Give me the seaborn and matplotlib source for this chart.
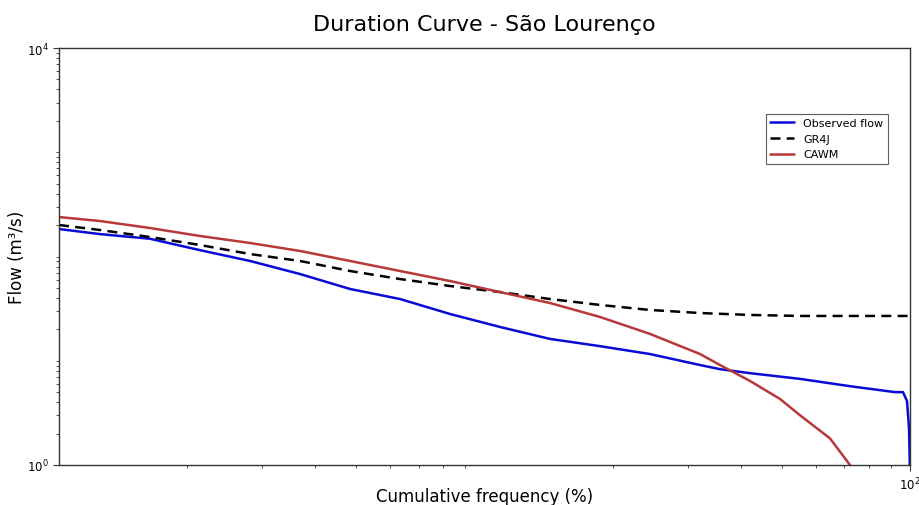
import numpy as np
import pandas as pd
import matplotlib
matplotlib.use("Agg")
import matplotlib.pyplot as plt
import seaborn as sns
from matplotlib.ticker import FixedLocator, NullFormatter

# ---- data ----
obs_freq = [1.0, 1.248, 1.636, 2.145, 2.811, 3.685, 4.830, 6.330, 8.297, 10.87, 14.25,
            18.68, 24.48, 32.10, 35.77, 42.07, 55.14, 72.27, 92.2, 96.3, 98.4, 99.5, 100.0]
obs_flow = [183.5, 164, 148, 115, 90.6, 67.9, 48.8, 39.1, 28.1, 21.1, 16.2,
            13.8, 11.6, 9.1, 8.3, 7.6, 6.7, 5.7, 5.0, 5.0, 4.1, 2.2, 0.8]

gr4j_freq = [1.0, 1.248, 1.636, 2.145, 2.811, 3.685, 4.830, 6.330, 8.297, 10.87, 14.25,
             18.68, 24.48, 32.10, 42.07, 55.14, 72.27, 100.0]
gr4j_flow = [200.5, 179.6, 153.8, 128.9, 105.6, 90.6, 72.6, 60.8, 52.1, 45.6, 39.1,
             34.3, 30.7, 28.7, 27.5, 26.9, 26.9, 26.9]

cawm_freq = [1.0, 1.248, 1.636, 2.145, 2.811, 3.685, 4.830, 6.330, 8.297, 10.87, 14.25,
             18.68, 24.48, 32.10, 35.77, 42.07, 49.49, 55.14, 64.86, 72.27]
cawm_flow = [239, 219, 187.6, 157.3, 134.8, 113, 90.6, 72.6, 58.2, 45.6, 35.8,
             26.3, 18.1, 11.6, 9.1, 6.4, 4.3, 3.0, 1.8, 1.0]

series_names = ["Observed flow", "GR4J", "CAWM"]
title = "Duration Curve - São Lourenço"
xlabel = "Cumulative frequency (%)"
ylabel = "Flow (m³/s)"

sns.set_theme(style="ticks")
plt.rcParams["font.family"] = ["DejaVu Sans"]
plt.rcParams["text.color"] = "black"
plt.rcParams["axes.labelcolor"] = "black"
plt.rcParams["xtick.color"] = "black"
plt.rcParams["ytick.color"] = "black"

fig = plt.figure(figsize=(9.2, 5.06), dpi=100)
ax = fig.add_axes([59/920, 40/506, 851/920, 417/506])

df_obs = pd.DataFrame({"x": obs_freq, "y": obs_flow})
df_gr = pd.DataFrame({"x": gr4j_freq, "y": gr4j_flow})
df_ca = pd.DataFrame({"x": cawm_freq, "y": cawm_flow})

sns.lineplot(data=df_obs, x="x", y="y", ax=ax, color="#0a0ad6", lw=1.8,
             label=series_names[0], estimator=None)
sns.lineplot(data=df_gr, x="x", y="y", ax=ax, color="black", lw=1.8,
             linestyle=(0, (4, 2.5)), label=series_names[1], estimator=None)
sns.lineplot(data=df_ca, x="x", y="y", ax=ax, color="#b8383a", lw=1.8,
             label=series_names[2], estimator=None)

ax.set_xscale("log")
ax.set_yscale("log")
ax.set_xlim(1, 100)
ax.set_ylim(1, 1e4)

ax.xaxis.set_major_locator(FixedLocator([100]))
ax.set_xticklabels(["$10^{2}$"])
ax.xaxis.set_minor_locator(FixedLocator([2, 3, 4, 5, 6, 7, 8, 9,
                                         20, 30, 40, 50, 60, 70, 80, 90]))
ax.xaxis.set_minor_formatter(NullFormatter())

ax.yaxis.set_major_locator(FixedLocator([1, 1e4]))
ax.set_yticklabels(["$10^{0}$", "$10^{4}$"])
ymin = [k * 10**d for d in range(0, 4) for k in range(2, 10)] + [10, 100, 1000]
ax.yaxis.set_minor_locator(FixedLocator(ymin))
ax.yaxis.set_minor_formatter(NullFormatter())

ax.tick_params(which="major", length=4, width=0.8, labelsize=8.5, color="#333333")
ax.tick_params(which="minor", length=2.5, width=0.6, color="#333333")
for s in ax.spines.values():
    s.set_visible(True)
    s.set_color("#333333")
    s.set_linewidth(1.0)

ax.set_title(title, fontsize=16, pad=13, color="black")
ax.set_xlabel(xlabel, fontsize=12)
ax.set_ylabel(ylabel, fontsize=12)
ax.xaxis.set_label_coords(0.5, -0.052)
ax.yaxis.set_label_coords(-0.039, 0.5)

leg = ax.legend(loc="upper right", bbox_to_anchor=(0.974, 0.842), fontsize=8,
                frameon=True, fancybox=False, edgecolor="#333333", handlelength=2.2,
                borderaxespad=0)
leg.get_frame().set_linewidth(0.8)
for t in leg.get_texts():
    t.set_color("black")

fig.savefig("out.png", dpi=100)
